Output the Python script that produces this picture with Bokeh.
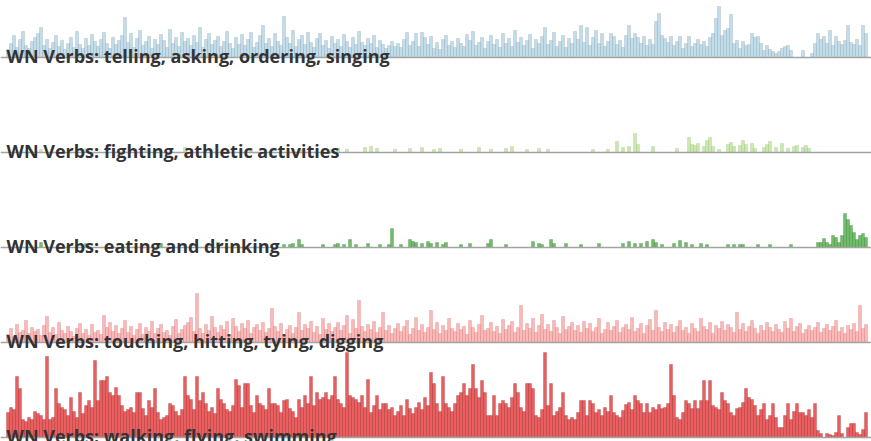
from bokeh.plotting import figure
from bokeh.models import Range1d, Span, Label
from bokeh.embed import file_html
from bokeh.resources import INLINE

# ---------------- data ----------------
TITLES = [
    "WN Verbs: telling, asking, ordering, singing",
    "WN Verbs: fighting, athletic activities",
    "WN Verbs: eating and drinking",
    "WN Verbs: touching, hitting, tying, digging",
    "WN Verbs: walking, flying, swimming",
]
COLORS = ["#a6cee3", "#b2df8a", "#33a02c", "#fb9a99", "#e31a1c"]
EDGE_COLORS = ["#8a9aa3", "#9bb585", "#2a7a25", "#c07070", "#8a2020"]

telling = [
    8, 14, 22, 10, 18, 26, 12, 9, 16, 20,
    24, 30, 12, 18, 9, 15, 22, 11, 17, 8,
    14, 20, 10, 26, 13, 9, 19, 12, 23, 16,
    11, 18, 25, 14, 9, 20, 13, 17, 22, 40,
    15, 24, 10, 19, 27, 12, 16, 21, 9, 18,
    13, 23, 17, 10, 28, 14, 20, 11, 25, 16,
    19, 12, 22, 15, 30, 10, 18, 24, 13, 17,
    21, 11, 16, 26, 14, 9, 20, 13, 23, 12,
    18, 25, 10, 15, 22, 32, 14, 19, 11, 24,
    16, 12, 41, 20, 14, 27, 11, 18, 22, 13,
    25, 15, 10, 19, 24, 12, 17, 9, 21, 14,
    18, 11, 23, 16, 10, 20, 13, 26, 15, 12,
    19, 14, 22, 10, 17, 13, 9, 12, 16, 11,
    14, 10, 18, 25, 12, 16, 24, 11, 25, 20,
    13, 21, 9, 15, 8, 18, 22, 12, 16, 10,
    19, 14, 11, 23, 17, 26, 12, 15, 20, 9,
    16, 22, 13, 18, 10, 24, 14, 19, 11, 27,
    15, 20, 12, 17, 23, 9, 18, 14, 21, 30,
    13, 17, 25, 11, 16, 22, 10, 19, 14, 26,
    18, 32, 15, 30, 12, 20, 27, 14, 24, 11,
    16, 24, 21, 13, 17, 10, 22, 32, 19, 24,
    20, 14, 21, 12, 18, 13, 36, 44, 22, 19,
    15, 21, 12, 16, 21, 9, 14, 21, 11, 14,
    18, 13, 16, 11, 20, 24, 39, 51, 22, 27,
    29, 43, 14, 17, 9, 16, 12, 13, 24, 20,
    21, 14, 7, 12, 8, 6, 4, 6, 9, 11,
    12, 7, 0, 0, 0, 7, 0, 0, 4, 14,
    24, 18, 21, 14, 27, 12, 21, 16, 13, 17,
    32, 15, 13, 18, 12, 32, 24,
]

fighting_segments = [11, 26, 46, 59, 81, 98, 108, 110, 113, 119,
                     121, 123, 129, 134, 138, 142, 144, 151, 157, 161,
                     166, 168, 173, 177, 180, 195, 200, 203, 205, 207,
                     209, 210, 215, 223, 227, 228, 229, 230, 232, 233,
                     234, 235, 237, 240, 241, 242, 244, 245, 246, 248,
                     249, 252, 253, 254, 256, 258, 260, 262, 263, 265,
                     266, 267]
fighting_values = [3, 4, 3, 5, 4, 3, 3, 4, 3, 5,
                   6, 4, 3, 4, 5, 3, 4, 3, 5, 3,
                   4, 6, 3, 4, 3, 3, 3, 11, 5, 6,
                   19, 8, 6, 4, 15, 8, 7, 9, 6, 12,
                   15, 6, 3, 8, 10, 6, 7, 12, 8, 9,
                   4, 5, 8, 11, 5, 9, 4, 6, 7, 5,
                   7, 4]

eating_segments = [11, 26, 51, 70, 92, 94, 95, 97, 98, 105,
                   109, 110, 112, 114, 116, 120, 124, 127, 128, 131,
                   134, 135, 136, 138, 140, 141, 143, 145, 146, 151,
                   154, 160, 161, 166, 175, 177, 178, 181, 182, 186,
                   191, 197, 205, 207, 209, 211, 213, 215, 216, 218,
                   222, 224, 226, 228, 231, 233, 240, 242, 244, 245,
                   250, 254, 261, 270, 271, 272, 273, 274, 275, 276,
                   277, 278, 279, 280, 281, 282, 283, 284, 285, 286]
eating_values = [5, 4, 4, 5, 3, 3, 4, 8, 3, 3,
                 3, 4, 3, 8, 3, 4, 3, 3, 19, 3,
                 8, 6, 5, 4, 6, 4, 5, 3, 5, 3,
                 4, 4, 8, 3, 6, 4, 3, 8, 4, 4,
                 3, 4, 4, 6, 4, 4, 6, 8, 5, 3,
                 4, 7, 5, 3, 4, 3, 3, 3, 3, 3,
                 3, 3, 3, 5, 5, 9, 5, 3, 12, 10,
                 5, 12, 34, 28, 22, 15, 8, 12, 14, 10]

touching = [
    8, 14, 6, 18, 10, 12, 22, 9, 15, 11,
    13, 7, 17, 26, 10, 15, 8, 20, 12, 9,
    16, 11, 6, 14, 19, 9, 13, 7, 18, 10,
    12, 8, 27, 15, 20, 11, 17, 9, 14, 22,
    10, 16, 7, 13, 19, 8, 15, 11, 21, 9,
    14, 18, 10, 12, 7, 16, 23, 9, 13, 17,
    20, 25, 11, 49, 14, 9, 18, 12, 26, 15,
    10, 17, 13, 21, 8, 24, 16, 11, 19, 14,
    22, 9, 15, 18, 12, 20, 10, 14, 34, 16,
    11, 19, 8, 13, 17, 9, 15, 30, 12, 18,
    14, 21, 10, 16, 8, 24, 13, 19, 11, 15,
    20, 12, 17, 27, 9, 23, 14, 42, 16, 11,
    18, 13, 21, 10, 15, 30, 12, 17, 9, 14,
    19, 11, 16, 22, 8, 14, 25, 12, 18, 10,
    15, 32, 13, 20, 9, 17, 12, 24, 14, 11,
    19, 13, 16, 8, 22, 15, 10, 18, 27, 12,
    14, 20, 11, 16, 9, 23, 13, 17, 21, 10,
    15, 37, 12, 19, 14, 24, 10, 17, 28, 13,
    18, 11, 22, 15, 9, 26, 13, 16, 20, 12,
    17, 10, 21, 14, 19, 11, 15, 24, 9, 13,
    20, 12, 16, 22, 10, 15, 18, 13, 25, 11,
    14, 19, 9, 17, 23, 12, 32, 15, 11, 20,
    13, 18, 10, 16, 22, 12, 15, 9, 19, 14,
    11, 24, 16, 13, 20, 9, 17, 14, 21, 12,
    18, 15, 10, 30, 13, 19, 11, 16, 22, 14,
    9, 17, 12, 20, 15, 11, 18, 13, 10, 21,
    14, 24, 11, 16, 19, 9, 13, 17, 12, 15,
    20, 10, 14, 18, 12, 16, 22, 11, 15, 9,
    17, 13, 19, 11, 37, 14, 18,
]

walking = [
    25, 30, 28, 61, 49, 18, 16, 20, 18, 26,
    24, 22, 18, 81, 18, 20, 49, 34, 30, 28,
    22, 40, 26, 20, 45, 24, 32, 37, 30, 77,
    37, 57, 57, 61, 45, 42, 50, 42, 32, 26,
    28, 30, 25, 45, 45, 29, 22, 37, 30, 49,
    25, 18, 20, 22, 34, 32, 26, 22, 28, 61,
    42, 38, 28, 61, 37, 45, 34, 26, 30, 24,
    49, 38, 34, 28, 26, 32, 58, 52, 30, 54,
    54, 32, 25, 42, 34, 32, 28, 49, 34, 34,
    32, 25, 37, 38, 29, 26, 20, 38, 30, 42,
    34, 61, 32, 45, 38, 40, 45, 38, 42, 61,
    38, 34, 30, 85, 42, 40, 38, 35, 42, 30,
    58, 25, 32, 42, 28, 34, 34, 28, 30, 22,
    26, 32, 22, 38, 29, 24, 30, 35, 28, 40,
    32, 65, 54, 34, 26, 61, 34, 30, 26, 34,
    42, 45, 54, 42, 49, 73, 49, 40, 57, 45,
    22, 22, 42, 22, 34, 37, 34, 30, 40, 54,
    45, 30, 26, 54, 54, 49, 22, 20, 28, 85,
    32, 54, 22, 26, 30, 45, 22, 18, 20, 18,
    25, 37, 37, 22, 37, 34, 25, 28, 22, 30,
    26, 42, 25, 22, 20, 27, 33, 35, 28, 42,
    37, 34, 25, 34, 25, 30, 28, 33, 29, 30,
    34, 73, 42, 20, 18, 25, 37, 34, 29, 37,
    29, 37, 57, 37, 57, 32, 30, 28, 45, 37,
    34, 25, 22, 29, 30, 35, 49, 40, 38, 32,
    22, 28, 34, 18, 22, 34, 20, 10, 10, 22,
    34, 18, 26, 34, 25, 25, 22, 28, 20, 34,
    7, 4, 0, 4, 3, 2, 5, 22, 4, 0,
    10, 14, 14, 5, 3, 8, 25,
]

# ---------------- build ----------------
def dense(values):
    segs = [i for i, v in enumerate(values) if v > 0]
    return segs, [values[i] for i in segs]

ROWS = [
    dense(telling),
    (fighting_segments, fighting_values),
    (eating_segments, eating_values),
    dense(touching),
    dense(walking),
]

W, H = 871, 441
PX_PER_SEG = 3.0
x0 = -2.5
p = figure(width=W, height=H, output_backend="svg", toolbar_location=None,
           x_range=Range1d(x0, x0 + W / PX_PER_SEG), y_range=Range1d(0, H),
           x_axis_type=None, y_axis_type=None, min_border=0)
p.grid.visible = False
p.outline_line_color = None
p.background_fill_color = "white"

ROW_STEP = 95
for k, ((segs, vals), color, edge) in enumerate(zip(ROWS, COLORS, EDGE_COLORS)):
    base = 4 + ROW_STEP * (4 - k)
    p.vbar(x=segs, bottom=base, top=[base + v for v in vals], width=1.0,
           fill_color=color, fill_alpha=0.7, line_color=edge,
           line_alpha=0.45, line_width=0.6)
    p.add_layout(Span(location=base, dimension="width", line_color="#a3a3a3",
                      line_width=1.5))

for k, title in enumerate(TITLES):
    base = 4 + ROW_STEP * (4 - k)
    p.add_layout(Label(x=x0 + 2.0, y=base + 2, text=title, text_font="Open Sans",
                       text_font_style="bold", text_font_size="18px",
                       text_color="#333333", text_baseline="alphabetic"))

html = file_html(p, INLINE)
html = html.replace("</head>", "<style>html,body{overflow:hidden;}</style></head>", 1)
open("out.html", "w").write(html)
